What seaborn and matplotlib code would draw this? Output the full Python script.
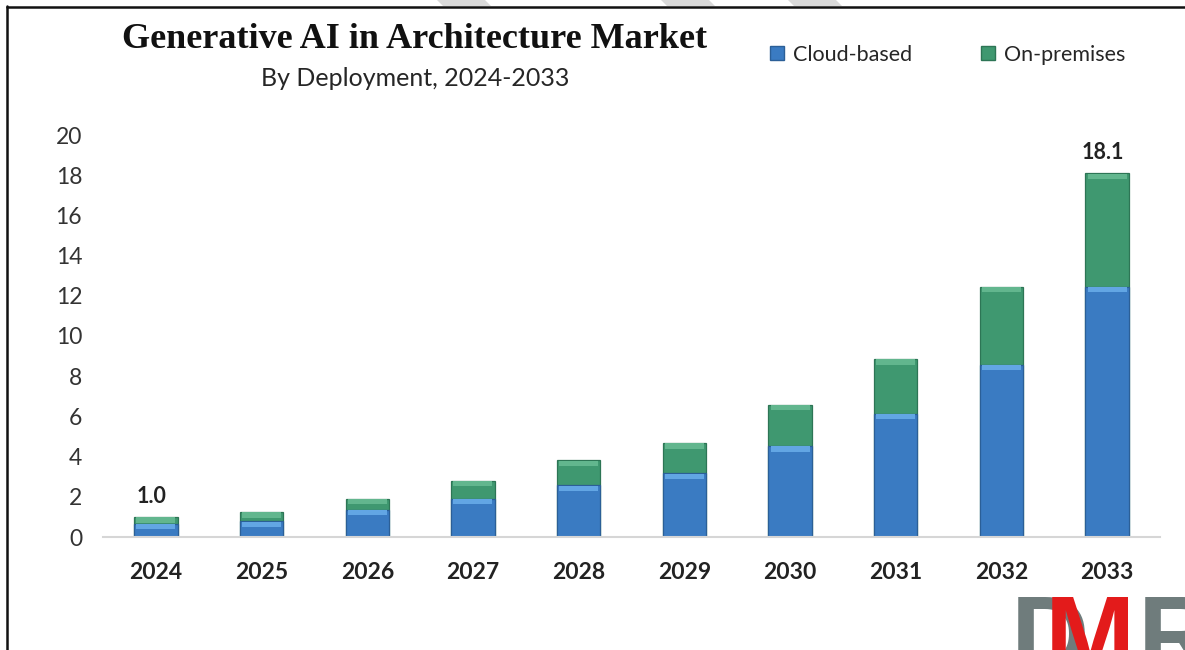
import matplotlib
matplotlib.use("Agg")
import matplotlib.pyplot as plt
from matplotlib.lines import Line2D
from matplotlib.patches import Polygon
import pandas as pd
import seaborn as sns

# Market size by deployment mode (USD billion)
years = ["2024", "2025", "2026", "2027", "2028", "2029", "2030", "2031", "2032", "2033"]
cloud = [0.66, 0.78, 1.36, 1.90, 2.58, 3.17, 4.53, 6.13, 8.58, 12.45]
on_premises = [0.34, 0.46, 0.54, 0.90, 1.24, 1.51, 2.05, 2.73, 3.87, 5.65]
labelled_years = ["2024", "2033"]
series_names = ["Cloud-based", "On-premises"]
y_ticks = list(range(0, 21, 2))

BLUE, BLUE_HI, BLUE_EDGE = "#3a7bc2", "#62a6e4", "#2b5f97"
GREEN, GREEN_HI, GREEN_EDGE = "#3f9870", "#62b68e", "#2d7555"

W, H = 1185, 650

sns.set_theme(style="white")
plt.rcParams["font.family"] = ["Lato", "DejaVu Sans"]

df = pd.DataFrame({"year": years, "cloud": cloud, "on_premises": on_premises})
df["total"] = df["cloud"] + df["on_premises"]

fig = plt.figure(figsize=(W / 100, H / 100), dpi=100)
fig.patch.set_facecolor("white")
ax = fig.add_axes([103 / W, 1 - 537 / H, (1160 - 103) / W, (537 - 135) / H])

bar_w = 0.41
# stacked bars: full height in green, cloud share drawn over it in blue
sns.barplot(data=df, x="year", y="total", color=GREEN, saturation=1, width=bar_w,
            errorbar=None, edgecolor=GREEN_EDGE, linewidth=0.9, ax=ax)
sns.barplot(data=df, x="year", y="cloud", color=BLUE, saturation=1, width=bar_w,
            errorbar=None, edgecolor=BLUE_EDGE, linewidth=0.9, ax=ax)

# light bevel strip along the top of each segment
hl = 0.26
for container, col in zip(ax.containers[:2], [GREEN_HI, BLUE_HI]):
    for patch in container:
        top = patch.get_height()
        xc = patch.get_x() + patch.get_width() / 2
        ax.bar(xc, hl, bottom=top - hl - 0.02, width=patch.get_width() * 0.9,
               color=col, linewidth=0, zorder=3)

# value labels for first and last year
for patch, yr, tot in zip(ax.containers[0], years, df["total"]):
    if yr in labelled_years:
        ax.annotate(f"{tot:.1f}", (patch.get_x() + patch.get_width() / 2, tot),
                    xytext=(-3, 10), textcoords="offset points", ha="center",
                    va="baseline", fontsize=15.5, fontweight="bold", color="#222222")

ax.set_ylim(0, 20)
ax.set_xlim(-0.5, len(years) - 0.5)
ax.set_yticks(y_ticks)
ax.set_yticklabels([str(t) for t in y_ticks])
ax.set_xlabel("")
ax.set_ylabel("")
ax.tick_params(axis="y", length=0, pad=15, labelsize=16.5, labelcolor="#333333")
ax.tick_params(axis="x", length=0, pad=18, labelsize=16.5, labelcolor="#222222")
for lbl in ax.get_xticklabels():
    lbl.set_fontweight("bold")
sns.despine(ax=ax, left=True)
ax.spines["bottom"].set_color("#d6d6d6")
ax.spines["bottom"].set_linewidth(1.5)
ax.grid(False)

# legend
handles = [
    Line2D([], [], marker="s", ls="none", markersize=9.5, markerfacecolor=BLUE,
           markeredgecolor=BLUE_EDGE),
    Line2D([], [], marker="s", ls="none", markersize=9.5, markerfacecolor=GREEN,
           markeredgecolor=GREEN_EDGE),
]
fig.legend(handles, series_names, loc="center left",
           bbox_to_anchor=(769 / W, 1 - 55 / H), ncol=2, frameon=False,
           fontsize=15.5, handlelength=0.7, handletextpad=0.4, columnspacing=3.2,
           borderpad=0, borderaxespad=0, labelcolor="#262626")

# titles
fig.text(415 / W, 1 - 48 / H, "Generative AI in Architecture Market", ha="center",
         va="baseline", family="Liberation Serif", fontweight="bold", fontsize=26,
         color="#111111")
fig.text(415 / W, 1 - 86 / H, "By Deployment, 2024-2033", ha="center",
         va="baseline", fontsize=18, color="#262626")

# frame lines
fig.add_artist(Line2D([7 / W, 7 / W], [0, 1 - 6 / H], transform=fig.transFigure,
                      color="#111111", lw=1.8))
fig.add_artist(Line2D([7 / W, 1], [1 - 6.5 / H, 1 - 6.5 / H], transform=fig.transFigure,
                      color="#111111", lw=1.8))

# faint stripes above the frame
for x0 in [437, 661, 788]:
    pts = [(x0, 0), (x0 + 48, 0), (x0 + 54, 6), (x0 + 6, 6)]
    fig.add_artist(Polygon([(px / W, 1 - py / H) for px, py in pts], closed=True,
                           transform=fig.transFigure, facecolor="#dadada",
                           edgecolor="none"))

# brand mark, running off the bottom edge
logo_size = 78
logo_y = 1 - (593 + 0.716 * logo_size / 0.72) / H
for letter, x0, col, z in [("D", 1011, "#6f7c7c", 5), ("M", 1045, "#e31b1b", 6),
                           ("R", 1138, "#6f7c7c", 5)]:
    fig.text(x0 / W, logo_y, letter, ha="left", va="baseline", family="Liberation Sans",
             fontweight="bold", fontsize=logo_size, color=col, zorder=z)

fig.savefig("out.png", dpi=100, facecolor="white")
